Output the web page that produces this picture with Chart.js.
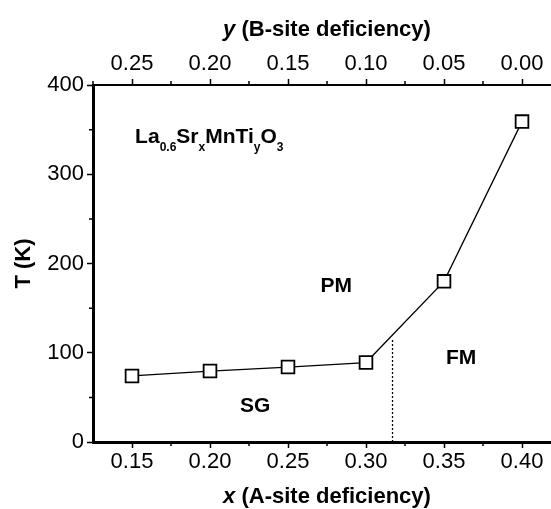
<!DOCTYPE html>
<html>
<head>
<meta charset="utf-8">
<script src="https://cdn.jsdelivr.net/npm/chart.js@4/dist/chart.umd.min.js"></script>
<style>
  html, body { margin: 0; padding: 0; background: #fff; overflow: hidden; }
  canvas { display: block; }
</style>
</head>
<body>
<canvas id="phase" width="580" height="509"></canvas>
<script>
// transition temperatures vs A-site deficiency x
const xValues = [0.15, 0.20, 0.25, 0.30, 0.35, 0.40];
const tValues = [74, 79.5, 84, 89, 180, 359];

// dotted PM/FM boundary
const boundaryX = [0.317, 0.317];
const boundaryT = [0, 115];

// phase region labels
const phaseNames = ["PM", "FM", "SG"];
const phaseX = [0.281, 0.361, 0.229];
const phaseT = [175, 94, 40];

// ticks
const xTicks = [0.15, 0.20, 0.25, 0.30, 0.35, 0.40];
const xMinor = [0.175, 0.225, 0.275, 0.325, 0.375];
const yTopTicks = [0.25, 0.20, 0.15, 0.10, 0.05, 0.00];
const yTopMinor = [0.275, 0.225, 0.175, 0.125, 0.075, 0.025];
const tTicks = [0, 100, 200, 300, 400];
const tMinor = [50, 150, 250, 350];

const FONT = "'Liberation Sans', Arial, sans-serif";

function drawParts(ctx, parts, x, y) {
  // parts: [text, fontString, dy]
  let cx = x;
  parts.forEach(([t, f, dy]) => {
    ctx.font = f;
    ctx.fillText(t, cx, y + (dy || 0));
    cx += ctx.measureText(t).width;
  });
}

function partsWidth(ctx, parts) {
  return parts.reduce((w, [t, f]) => { ctx.font = f; return w + ctx.measureText(t).width; }, 0);
}

const extras = {
  id: "extras",
  afterDraw(chart) {
    const { ctx, chartArea: a, scales } = chart;
    const sx = scales.x, sy = scales.y, st = scales.x2;
    ctx.save();

    // minor ticks
    ctx.strokeStyle = "#000";
    ctx.lineWidth = 1.5;
    ctx.beginPath();
    xMinor.forEach(v => { const p = sx.getPixelForValue(v); ctx.moveTo(p, a.bottom); ctx.lineTo(p, a.bottom + 4); });
    yTopMinor.forEach(v => { const p = st.getPixelForValue(v); ctx.moveTo(p, a.top); ctx.lineTo(p, a.top - 4); });
    tMinor.forEach(v => { const p = sy.getPixelForValue(v); ctx.moveTo(a.left, p); ctx.lineTo(a.left - 4, p); });
    ctx.stroke();

    ctx.fillStyle = "#000";

    // phase labels
    ctx.font = `bold 21px ${FONT}`;
    ctx.textAlign = "center";
    ctx.textBaseline = "middle";
    phaseNames.forEach((n, i) => {
      ctx.fillText(n, sx.getPixelForValue(phaseX[i]), sy.getPixelForValue(phaseT[i]));
    });

    // compound formula
    ctx.textAlign = "left";
    ctx.textBaseline = "alphabetic";
    const big = `bold 21px ${FONT}`, small = `bold 12px ${FONT}`;
    drawParts(ctx, [
      ["La", big], ["0.6", small, 8], ["Sr", big], ["x", small, 8],
      ["MnTi", big], ["y", small, 8], ["O", big], ["3", small, 8]
    ], sx.getPixelForValue(0.152), sy.getPixelForValue(335));

    // axis titles
    const tb = `bold 22px ${FONT}`, ti = `italic bold 22px ${FONT}`;
    ctx.textBaseline = "middle";
    const cxm = (a.left + a.right) / 2;
    const top = [["y", ti], [" (B-site deficiency)", tb]];
    drawParts(ctx, top, cxm - partsWidth(ctx, top) / 2, 30);
    const bot = [["x", ti], [" (A-site deficiency)", tb]];
    drawParts(ctx, bot, cxm - partsWidth(ctx, bot) / 2, 497);

    ctx.translate(24, (a.top + a.bottom) / 2);
    ctx.rotate(-Math.PI / 2);
    ctx.textAlign = "center";
    ctx.font = tb;
    ctx.fillText("T (K)", 0, 0);

    ctx.restore();
  }
};

const tickFont = { family: FONT, size: 22 };
const axisGrid = { drawOnChartArea: false, drawTicks: true, tickLength: 6, tickWidth: 1.5, tickColor: "#000" };

new Chart(document.getElementById("phase"), {
  type: "line",
  data: {
    datasets: [
      {
        data: xValues.map((x, i) => ({ x, y: tValues[i] })),
        borderColor: "#000",
        borderWidth: 1.3,
        tension: 0,
        pointStyle: "rect",
        pointRadius: 9,
        pointBorderWidth: 1.8,
        pointBackgroundColor: "#fff",
        pointBorderColor: "#000"
      },
      {
        data: boundaryX.map((x, i) => ({ x, y: boundaryT[i] })),
        borderColor: "#000",
        borderWidth: 1.3,
        borderDash: [2, 2],
        pointRadius: 0
      }
    ]
  },
  options: {
    responsive: false,
    animation: false,
    events: [],
    layout: { padding: { left: 0, right: 19, top: 0, bottom: 0 } },
    plugins: { legend: { display: false }, tooltip: { enabled: false } },
    scales: {
      x: {
        type: "linear",
        position: "bottom",
        min: 0.125,
        max: 0.425,
        afterBuildTicks: s => { s.ticks = xTicks.map(value => ({ value })); },
        afterFit: s => { s.height = 67; },
        ticks: { color: "#000", font: tickFont, padding: 1, maxRotation: 0, autoSkip: false, callback: v => v.toFixed(2) },
        grid: axisGrid,
        border: { display: true, color: "#000", width: 3 }
      },
      x2: {
        type: "linear",
        position: "top",
        reverse: true,
        min: -0.025,
        max: 0.275,
        afterBuildTicks: s => { s.ticks = yTopTicks.map(value => ({ value })); },
        afterFit: s => { s.height = 85; },
        ticks: { color: "#000", font: tickFont, padding: 2, maxRotation: 0, autoSkip: false, callback: v => Math.abs(v).toFixed(2) },
        grid: axisGrid,
        border: { display: true, color: "#000", width: 2 }
      },
      y: {
        type: "linear",
        min: 0,
        max: 400,
        afterBuildTicks: s => { s.ticks = tTicks.map(value => ({ value })); },
        afterFit: s => { s.width = 93; },
        ticks: { color: "#000", font: tickFont, padding: 3, callback: v => String(v) },
        grid: axisGrid,
        border: { display: true, color: "#000", width: 3 }
      }
    }
  },
  plugins: [extras]
});
</script>
</body>
</html>
